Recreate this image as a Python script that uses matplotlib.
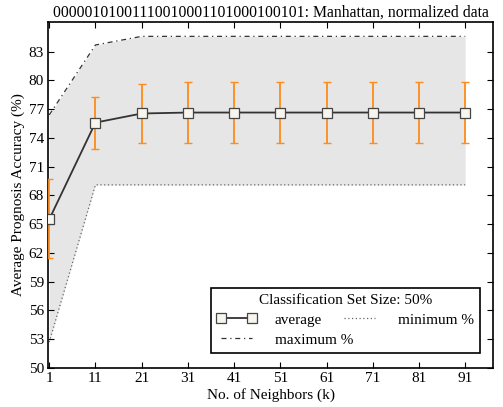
import matplotlib.pyplot as plt
import numpy as np

plt.rcParams["font.family"] = ["Liberation Serif", "DejaVu Serif"]

k_values = [1, 11, 21, 31, 41, 51, 61, 71, 81, 91]
avg_acc = [65.5, 75.6, 76.55, 76.65, 76.65, 76.65, 76.65, 76.65, 76.65, 76.65]
err_low = [61.5, 72.8, 73.45, 73.45, 73.45, 73.45, 73.45, 73.45, 73.45, 73.45]
err_high = [69.7, 78.3, 79.6, 79.85, 79.85, 79.85, 79.85, 79.85, 79.85, 79.85]
max_acc = [76.4, 83.7, 84.6, 84.6, 84.6, 84.6, 84.6, 84.6, 84.6, 84.6]
min_acc = [52.7, 69.1, 69.1, 69.1, 69.1, 69.1, 69.1, 69.1, 69.1, 69.1]
y_ticks = [50, 53, 56, 59, 62, 65, 68, 71, 74, 77, 80, 83]

fig = plt.figure(figsize=(5.03, 4.07), dpi=100)
ax = fig.add_axes([0.096, 0.096, 0.884, 0.85])

avg = np.array(avg_acc)
yerr = [avg - np.array(err_low), np.array(err_high) - avg]

ax.fill_between(k_values, min_acc, max_acc, color="#e6e6e6", lw=0, zorder=1)
ax.plot(k_values, max_acc, color="#333333", ls=(0, (4, 3, 1, 3)), lw=0.9, label="maximum %", zorder=2)
ax.plot(k_values, min_acc, color="#666666", ls=(0, (1, 2)), lw=0.9, label="minimum %", zorder=2)
ax.errorbar(k_values, avg_acc, yerr=yerr, fmt="none", ecolor="#ff8c1a", elinewidth=1.3,
            capsize=3, capthick=1.0, zorder=3)
ax.plot(k_values, avg_acc, color="#333333", lw=1.3, marker="s", markersize=7.5,
        markerfacecolor="#f8f5ee", markeredgecolor="#444444", markeredgewidth=0.9,
        label="average", zorder=4)

ax.set_xlim(0.8, 97)
ax.set_ylim(50, 86.1)
ax.set_xticks(k_values)
ax.set_yticks(y_ticks)
ax.tick_params(direction="in", top=True, right=True, labelsize=11, length=4, pad=3)
for s in ax.spines.values():
    s.set_linewidth(1.2)

ax.set_xlabel("No. of Neighbors (k)", fontsize=11, labelpad=2)
ax.set_ylabel("Average Prognosis Accuracy (%)", fontsize=11, labelpad=3)
ax.set_title("00000101001110010001101000100101: Manhattan, normalized data", fontsize=11.3, pad=4)

handles, labels = ax.get_legend_handles_labels()
order = [labels.index("average"), labels.index("maximum %"), labels.index("minimum %")]
leg = ax.legend([handles[i] for i in order], [labels[i] for i in order],
                title="Classification Set Size: 50%", ncol=2, loc="lower left",
                bbox_to_anchor=(0.348, 0.022, 0.64, 0.2), mode="expand", numpoints=2,
                fontsize=11, title_fontsize=11, fancybox=False, edgecolor="black",
                framealpha=1, borderpad=0.4, labelspacing=0.4, handlelength=2.6,
                handletextpad=1.2)
leg.get_frame().set_linewidth(1.2)

fig.savefig("out.png", dpi=100)
